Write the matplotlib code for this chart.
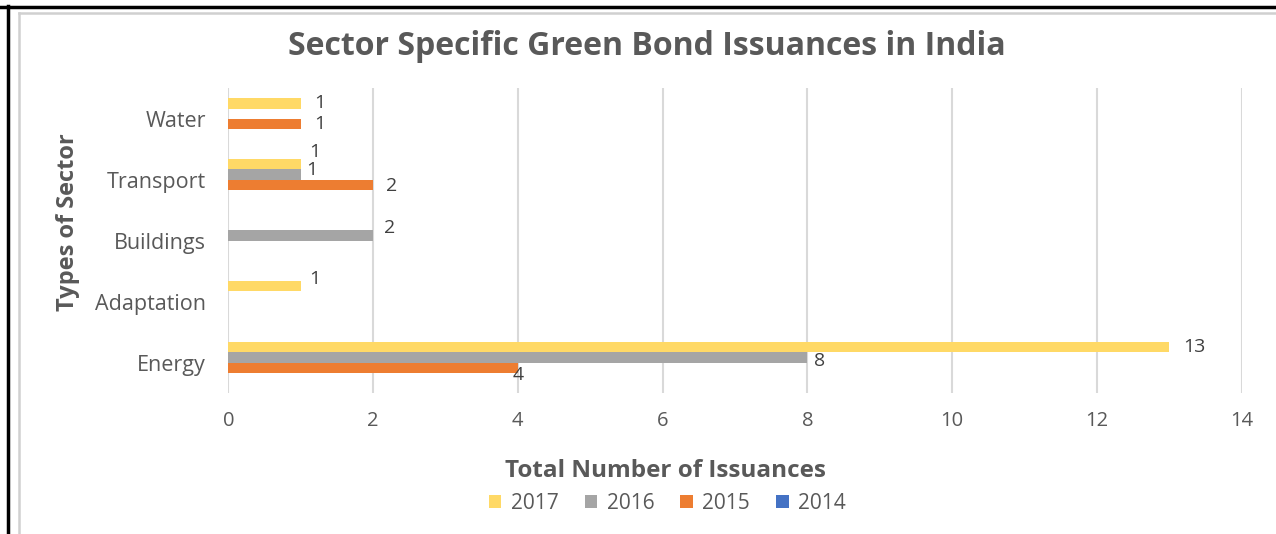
import numpy as np
import matplotlib
matplotlib.use("Agg")
import matplotlib.pyplot as plt
from matplotlib.lines import Line2D

# ── data ────────────────────────────────────────────────────────────
sectors = ["Energy", "Adaptation", "Buildings", "Transport", "Water"]
years   = ["2014", "2015", "2016", "2017"]

issuances_2014 = [0, 0, 0, 0, 0]
issuances_2015 = [4, 0, 0, 2, 1]
issuances_2016 = [8, 0, 2, 1, 0]
issuances_2017 = [13, 1, 0, 1, 1]

colors = {"2014": "#4472C4", "2015": "#ED7D31", "2016": "#A5A5A5", "2017": "#FFD966"}

series = {
    "2014": issuances_2014,
    "2015": issuances_2015,
    "2016": issuances_2016,
    "2017": issuances_2017,
}

# label nudges (pixels: right, down) relative to bar end / bar centre
label_nudge = {
    ("Water", "2017"): (19, 0), ("Water", "2015"): (19, 0),
    ("Transport", "2017"): (14, -12), ("Transport", "2016"): (11, -5),
    ("Transport", "2015"): (19, 1),
    ("Buildings", "2016"): (17, -8),
    ("Adaptation", "2017"): (14, -7),
    ("Energy", "2017"): (25, 0), ("Energy", "2016"): (12, 4),
    ("Energy", "2015"): (0, 7),
}

TEXT = "#595959"
plt.rcParams["font.family"] = ["Open Sans", "DejaVu Sans"]

fig = plt.figure(figsize=(12.76, 5.34), dpi=100)
ax = fig.add_axes([0.1789, 0.264, 0.7942, 0.5703])

y = np.arange(len(sectors))
h = 0.17
px2pt = 72 / fig.dpi

for i, yr in enumerate(years):
    vals = series[yr]
    pos = y + (i - 1.5) * h
    ax.barh(pos, vals, height=h, color=colors[yr], edgecolor="none", label=yr, zorder=3)
    for s, p, v in zip(sectors, pos, vals):
        if v == 0:
            continue
        dx, dy = label_nudge.get((s, yr), (15, 0))
        ax.annotate(str(v), (v, p), xytext=(dx * px2pt, -dy * px2pt),
                    textcoords="offset points", ha="center", va="center",
                    fontsize=14, color="#404040")

ax.set_xlim(0, 14)
ax.set_ylim(-0.5, 4.5)
ax.set_xticks(range(0, 15, 2))
ax.set_yticks(y)
ax.set_yticklabels(sectors)
ax.tick_params(length=0, labelcolor=TEXT)
ax.tick_params(axis="x", pad=13, labelsize=14.5)
ax.tick_params(axis="y", pad=16, labelsize=15.5)
ax.grid(axis="x", color="#D9D9D9", linewidth=1.5, zorder=0)
for sp in ax.spines.values():
    sp.set_visible(False)

ax.set_xlabel("Total Number of Issuances", fontsize=17.5, fontweight="bold", color=TEXT)
ax.xaxis.set_label_coords(0.431, -0.217)
ax.set_ylabel("Types of Sector", fontsize=17, fontweight="bold", color=TEXT)
ax.yaxis.set_label_coords(-0.146, 0.5625)

fig.text(0.507, 0.912, "Sector Specific Green Bond Issuances in India",
         ha="center", va="center", fontsize=23, fontweight="bold", color=TEXT)

handles, labels = ax.get_legend_handles_labels()
order = [3, 2, 1, 0]
fig.legend([handles[k] for k in order], [labels[k] for k in order],
           loc="center", bbox_to_anchor=(0.523, 0.058), ncol=4, frameon=False,
           fontsize=15, labelcolor=TEXT, handlelength=0.6, handleheight=0.6,
           columnspacing=1.26, handletextpad=0.45)

# outer black frame (top, left) and inner grey chart border
fig.add_artist(Line2D([0, 1], [1 - 7 / 534] * 2, color="black", lw=2.5))
fig.add_artist(Line2D([8 / 1276] * 2, [0, 1 - 6 / 534], color="black", lw=2.5))
fig.add_artist(Line2D([19 / 1276, 1], [1 - 13 / 534] * 2, color="#D0D0D0", lw=1.8))
fig.add_artist(Line2D([19 / 1276] * 2, [0, 1 - 13 / 534], color="#D0D0D0", lw=1.8))

fig.savefig("out.png", dpi=100)
